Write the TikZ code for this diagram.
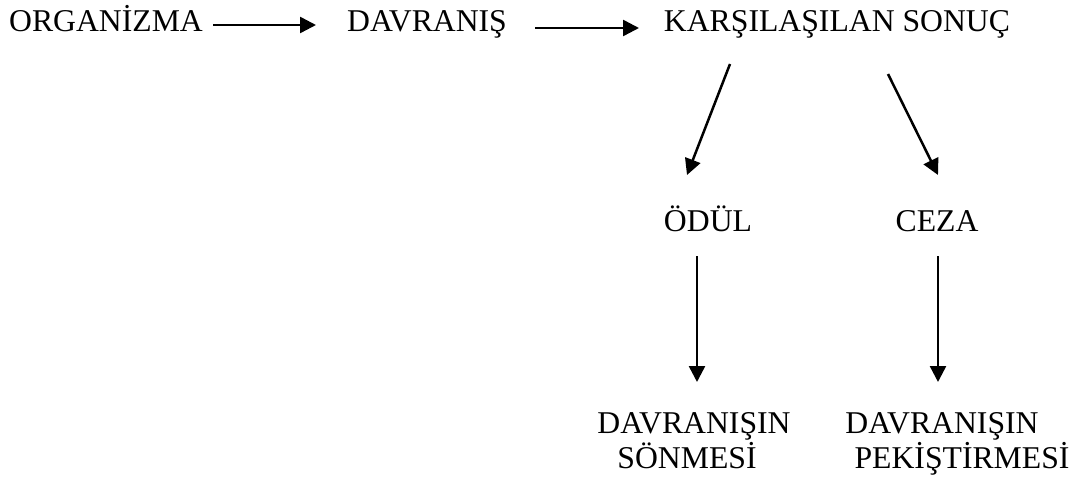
\documentclass[tikz,border=0pt]{standalone}
\usepackage{fontspec}
\setmainfont{Liberation Serif}
\usetikzlibrary{arrows.meta}
\begin{document}
\begin{tikzpicture}[x=1pt,y=-1pt,
  lbl/.style={inner sep=0pt, anchor=base, font=\fontsize{31.7}{37}\selectfont},
  arr/.style={line width=2.5pt, -{Triangle[length=16pt,width=16pt]}}]
\useasboundingbox (0,0) rectangle (1084,481);
\node[lbl] (org) at (106,32) {ORGANİZMA};
\node[lbl] (dav) at (427,32) {DAVRANIŞ};
\node[lbl] (kar) at (837,32) {KARŞILAŞILAN SONUÇ};
\node[lbl] (odul) at (708,232) {ÖDÜL};
\node[lbl] (ceza) at (937,232) {CEZA};
\node[lbl] (son1) at (694,433) {DAVRANIŞIN};
\node[lbl] (son2) at (687,468) {SÖNMESİ};
\node[lbl] (pek1) at (942,433) {DAVRANIŞIN};
\node[lbl] (pek2) at (962,468) {PEKİŞTİRMESİ};
\coordinate (a1s) at (213,25);
\coordinate (a1e) at (316,25);
\coordinate (a2s) at (535,28);
\coordinate (a2e) at (639,28);
\coordinate (d1s) at (730,64);
\coordinate (d1e) at (687,175);
\coordinate (d2s) at (888,74);
\coordinate (d2e) at (938,175);
\coordinate (v1s) at (697,256);
\coordinate (v1e) at (697,382);
\coordinate (v2s) at (938,256);
\coordinate (v2e) at (938,382);
\draw[arr] (a1s) -- (a1e);
\draw[arr] (a2s) -- (a2e);
\draw[arr] (d1s) -- (d1e);
\draw[arr] (d2s) -- (d2e);
\draw[arr] (v1s) -- (v1e);
\draw[arr] (v2s) -- (v2e);
\end{tikzpicture}
\end{document}
